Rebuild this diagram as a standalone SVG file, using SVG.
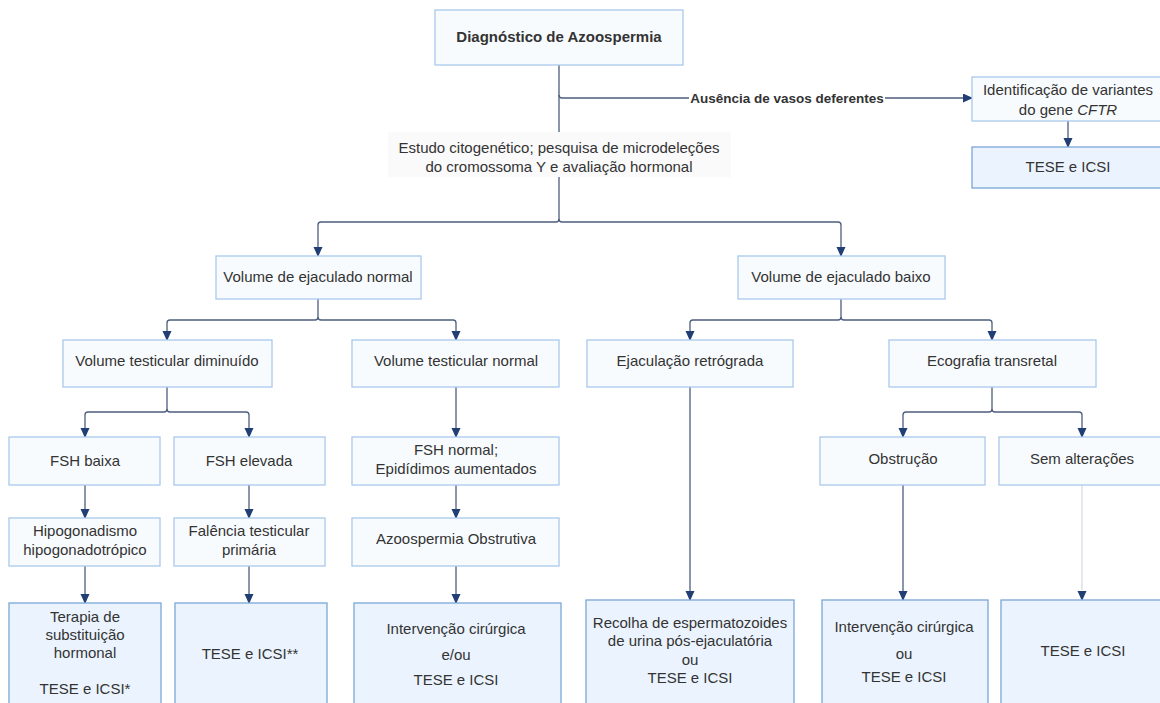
<svg xmlns="http://www.w3.org/2000/svg" width="1160" height="703" viewBox="0 0 1160 703">
<style>
text{font-family:"Liberation Sans",Arial,sans-serif;font-size:15px;fill:#333;text-anchor:middle}
.b{font-weight:bold}
.n{fill:#f8fbfe;stroke:#a9c9ec;stroke-width:1.3}
.f{fill:#ebf4fe;stroke:#7aa6d8;stroke-width:1.3}
.c{fill:none;stroke:#4d5d7e;stroke-width:1.3}
.lt{fill:none;stroke:#d3d8df;stroke-width:1.2}
</style>
<defs>
<marker id="ah" markerUnits="userSpaceOnUse" markerWidth="10" markerHeight="12" refX="9" refY="4.5" orient="auto">
<path d="M0,0 L10,4.5 L0,9 Z" fill="#213f74"/>
</marker>
</defs>
<rect width="1160" height="703" fill="#fff"/>
<g id="connectors">
<path class="c" d="M559 65 V219 q0 3 -3 3 H321 q-3 0 -3 3 V256" marker-end="url(#ah)"/>
<path class="c" d="M559 219 q0 3 3 3 H838 q3 0 3 3 V256" marker-end="url(#ah)"/>
<path class="c" d="M559 95 q0 3 3 3 H972" marker-end="url(#ah)"/>
<path class="c" d="M1068 121 V147" marker-end="url(#ah)"/>
<path class="c" d="M318 299 V317 q0 3 -3 3 H170 q-3 0 -3 3 V340" marker-end="url(#ah)"/>
<path class="c" d="M318 317 q0 3 3 3 H453 q3 0 3 3 V340" marker-end="url(#ah)"/>
<path class="c" d="M841 299 V317 q0 3 -3 3 H693 q-3 0 -3 3 V340" marker-end="url(#ah)"/>
<path class="c" d="M841 317 q0 3 3 3 H989 q3 0 3 3 V340" marker-end="url(#ah)"/>
<path class="c" d="M167 387 V409 q0 3 -3 3 H88 q-3 0 -3 3 V437" marker-end="url(#ah)"/>
<path class="c" d="M167 409 q0 3 3 3 H246 q3 0 3 3 V437" marker-end="url(#ah)"/>
<path class="c" d="M456 387 V437" marker-end="url(#ah)"/>
<path class="c" d="M992 387 V409 q0 3 -3 3 H906 q-3 0 -3 3 V437" marker-end="url(#ah)"/>
<path class="c" d="M992 409 q0 3 3 3 H1079 q3 0 3 3 V437" marker-end="url(#ah)"/>
<path class="c" d="M85 485 V518" marker-end="url(#ah)"/>
<path class="c" d="M249 485 V518" marker-end="url(#ah)"/>
<path class="c" d="M456 485 V518" marker-end="url(#ah)"/>
<path class="c" d="M85 566 V603" marker-end="url(#ah)"/>
<path class="c" d="M249 566 V603" marker-end="url(#ah)"/>
<path class="c" d="M456 566 V603" marker-end="url(#ah)"/>
<path class="c" d="M690 387 V600" marker-end="url(#ah)"/>
<path class="c" d="M903 485 V600" marker-end="url(#ah)"/>
<path class="lt" d="M1082 485 V590"/>
<path d="M1082 589 V600" fill="none" stroke="none" marker-end="url(#ah)"/>
<rect x="689" y="89" width="196" height="18" fill="#fff"/>
<text class="b" x="787" y="103" style="font-size:13.5px">Ausência de vasos deferentes</text>
<rect x="388" y="132" width="343" height="45" fill="#fafafb"/>
<text x="559" y="153">Estudo citogenético; pesquisa de microdeleções</text>
<text x="559" y="172">do cromossoma Y e avaliação hormonal</text>
</g>
<g id="diag"><rect class="n" x="435" y="10" width="248" height="55"/><text class="b" x="559" y="42">Diagnóstico de Azoospermia</text></g>
<g id="cftr"><rect class="n" x="972" y="77" width="192" height="44"/><text x="1068" y="95">Identificação de variantes</text><text x="1068" y="115">do gene <tspan font-style="italic">CFTR</tspan></text></g>
<g id="tese-top"><rect class="f" x="972" y="147" width="192" height="41"/><text x="1068" y="172">TESE e ICSI</text></g>
<g id="vnormal"><rect class="n" x="216" y="256" width="205" height="43"/><text x="318" y="282">Volume de ejaculado normal</text></g>
<g id="vbaixo"><rect class="n" x="738" y="256" width="207" height="43"/><text x="841" y="282">Volume de ejaculado baixo</text></g>
<g id="vtdim"><rect class="n" x="63" y="340" width="209" height="47"/><text x="167" y="366">Volume testicular diminuído</text></g>
<g id="vtnorm"><rect class="n" x="352" y="340" width="207" height="47"/><text x="456" y="366">Volume testicular normal</text></g>
<g id="ejac"><rect class="n" x="587" y="340" width="206" height="47"/><text x="690" y="366">Ejaculação retrógrada</text></g>
<g id="eco"><rect class="n" x="889" y="340" width="207" height="47"/><text x="992" y="366">Ecografia transretal</text></g>
<g id="fshb"><rect class="n" x="9" y="437" width="151" height="48"/><text x="85" y="466">FSH baixa</text></g>
<g id="fshe"><rect class="n" x="174" y="437" width="151" height="48"/><text x="249" y="466">FSH elevada</text></g>
<g id="fshn"><rect class="n" x="352" y="437" width="207" height="48"/><text x="456" y="455">FSH normal;</text><text x="456" y="474">Epidídimos aumentados</text></g>
<g id="obst"><rect class="n" x="820" y="437" width="165" height="48"/><text x="903" y="464">Obstrução</text></g>
<g id="sem"><rect class="n" x="999" y="437" width="166" height="48"/><text x="1082" y="464">Sem alterações</text></g>
<g id="hipo"><rect class="n" x="9" y="518" width="151" height="48"/><text x="85" y="536">Hipogonadismo</text><text x="85" y="555">hipogonadotrópico</text></g>
<g id="fal"><rect class="n" x="174" y="518" width="151" height="48"/><text x="249" y="536">Falência testicular</text><text x="249" y="555">primária</text></g>
<g id="azo"><rect class="n" x="352" y="518" width="207" height="48"/><text x="456" y="544">Azoospermia Obstrutiva</text></g>
<g id="terapia"><rect class="f" x="9" y="603" width="152" height="110"/><text x="85" y="622">Terapia de</text><text x="85" y="640">substituição</text><text x="85" y="658">hormonal</text><text x="85" y="694">TESE e ICSI*</text></g>
<g id="tese2"><rect class="f" x="175" y="603" width="152" height="110"/><text x="250" y="659">TESE e ICSI**</text></g>
<g id="interv"><rect class="f" x="354" y="603" width="207" height="110"/><text x="456" y="634">Intervenção cirúrgica</text><text x="456" y="660">e/ou</text><text x="456" y="685">TESE e ICSI</text></g>
<g id="recolha"><rect class="f" x="586" y="600" width="208" height="110"/><text x="690" y="628">Recolha de espermatozoides</text><text x="690" y="646">de urina pós-ejaculatória</text><text x="690" y="665">ou</text><text x="690" y="683">TESE e ICSI</text></g>
<g id="interv2"><rect class="f" x="822" y="600" width="166" height="110"/><text x="904" y="632">Intervenção cirúrgica</text><text x="904" y="659">ou</text><text x="904" y="682">TESE e ICSI</text></g>
<g id="tese3"><rect class="f" x="1001" y="600" width="165" height="110"/><text x="1083" y="656">TESE e ICSI</text></g>
</svg>
